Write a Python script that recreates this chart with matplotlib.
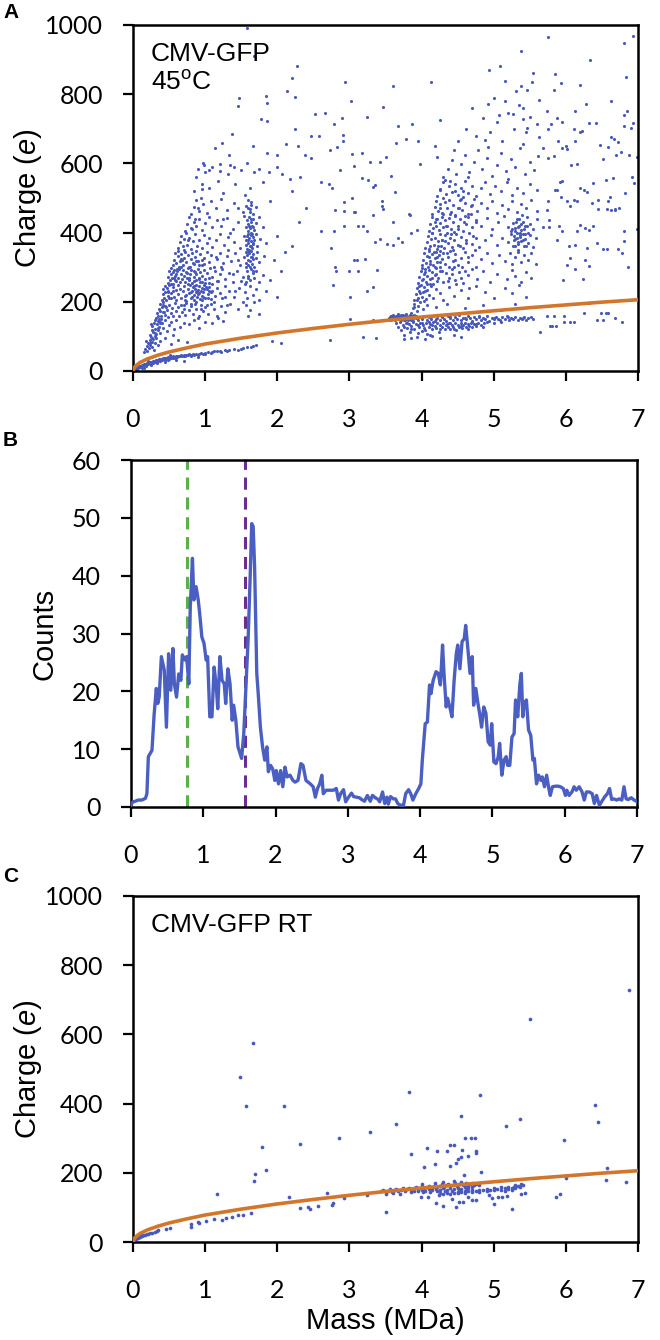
import numpy as np
import matplotlib
matplotlib.use("Agg")
import matplotlib.pyplot as plt

plt.rcParams['font.family'] = ['Liberation Sans', 'DejaVu Sans']
plt.rcParams['mathtext.fontset'] = 'custom'
plt.rcParams['mathtext.rm'] = 'Liberation Sans'
plt.rcParams['mathtext.it'] = 'Liberation Sans:italic'

BLUE = '#4759bd'
ORANGE = '#d2762c'

# fitted charge curve
curve_m = [0, 0.02, 0.05, 0.1, 0.2, 0.35, 0.5, 0.75, 1, 1.5, 2, 2.5, 3, 3.5, 4, 4.5, 5, 5.5, 6, 6.5, 7]
curve_q = [0, 11, 17, 25, 35, 46, 55, 67, 78, 95, 110, 123, 135, 146, 156, 165, 174, 183, 191, 199, 206]

# ---------- panel A points (mass MDa, charge e) ----------
a_low = [(0.01,3),(0.02,6),(0.03,8),(0.04,5),(0.05,10),(0.06,12),(0.07,9),(0.08,14),(0.09,11),(0.10,15),(0.11,13),
         (0.12,17),(0.13,14),(0.14,18),(0.15,16),(0.16,20),(0.17,17),(0.18,21),(0.19,19),(0.20,23),(0.21,20),(0.22,24),
         (0.23,22),(0.24,26),(0.25,23),(0.26,27),(0.27,25),(0.28,29),(0.29,26),(0.30,30),(0.31,28),(0.32,31),(0.33,29),
         (0.34,33),(0.35,30),(0.36,34),(0.37,32),(0.38,35),(0.39,31),(0.40,36),(0.41,34),(0.42,37),(0.43,35),(0.44,38),
         (0.45,33),(0.46,37),(0.47,39),(0.48,36),(0.49,40),(0.50,38),(0.52,39),(0.53,41),(0.55,38),(0.56,42),(0.58,40),
         (0.59,43),(0.61,41),(0.62,44),(0.64,42),(0.66,45),(0.68,43),(0.70,46),(0.72,44),(0.74,47),(0.76,45),(0.78,48),
         (0.80,46),(0.83,49),(0.85,47),(0.88,50),(0.91,48),(0.94,52),(0.97,50),(1.00,53),(1.04,55),(1.08,52),(1.12,57),
         (1.17,58),(1.22,56),(1.27,61),(1.33,60),(1.40,63),(1.46,62),(1.52,66),(1.58,68),(1.63,70),(1.67,72),(1.70,75),
         (1.93,88),(2.05,82),(0.33,22),(0.45,27),(0.60,33),(0.21,28),(0.51,45),(0.70,30),(0.90,40),(0.15,10),(0.25,18),
         (0.05,6),(0.10,12),(0.15,19),(0.20,21),(0.25,27),(0.30,27),(0.35,32),(0.40,33),(0.45,36),(0.50,35),(0.55,40),
         (0.60,40),(0.65,43),(0.70,42),(0.75,46),(0.80,44),(0.90,46),(1.00,50),(1.10,54),(1.20,58),(1.30,58),(1.50,64),
         (0.12,8),(0.18,14),(0.28,22),(0.38,28),(0.48,33),(0.58,37)]

a_left = [(0.15,55),(0.17,64),(0.19,72),(0.20,58),(0.21,80),(0.22,67),(0.23,90),(0.24,76),(0.25,98),(0.26,85),(0.27,70),
          (0.28,93),(0.30,82),(0.32,96),(0.35,74),(0.38,88),(0.45,95),(0.52,78),(0.62,90),(0.75,85),(0.18,88),(0.29,62),
          (0.24,105),(0.26,118),(0.27,130),(0.28,112),(0.29,140),(0.30,122),(0.31,148),(0.32,108),(0.33,135),(0.34,145),
          (0.35,118),(0.36,128),(0.37,142),(0.38,110),(0.40,138),(0.42,125),(0.44,147),(0.47,115),(0.50,132),(0.53,142),
          (0.57,120),(0.60,146),(0.65,128),(0.70,140),(0.78,135),(0.85,148),(0.92,125),(1.00,143),(1.10,138),(0.25,135),
          (0.31,102),(0.39,150),(0.55,105),(1.25,145),
          (0.32,152),(0.33,168),(0.35,160),(0.36,180),(0.37,172),(0.38,195),(0.39,158),(0.40,185),(0.41,170),(0.42,198),
          (0.44,162),(0.45,188),(0.47,175),(0.49,155),(0.50,192),(0.52,168),(0.54,182),(0.56,160),(0.58,196),(0.60,172),
          (0.62,185),(0.64,158),(0.66,192),(0.68,170),(0.70,180),(0.72,162),(0.74,196),(0.77,175),(0.80,188),(0.83,165),
          (0.86,194),(0.88,178),(0.91,160),(0.94,190),(0.97,172),(1.00,185),(1.04,166),(1.08,195),(1.12,178),(1.16,160),
          (1.22,188),(1.28,170),(1.35,193),(1.45,180),(1.56,190),(1.62,175),(1.68,198),(1.75,165),(1.60,158),(0.90,152),
          (1.18,152),
          (0.40,205),(0.41,222),(0.42,238),(0.43,212),(0.44,246),(0.45,228),(0.46,205),(0.47,240),(0.48,218),(0.49,232),
          (0.50,248),(0.52,210),(0.53,226),(0.55,242),(0.57,215),(0.59,235),(0.60,206),(0.62,248),(0.63,222),(0.65,238),
          (0.67,210),(0.69,230),(0.71,245),(0.72,218),(0.74,202),(0.76,236),(0.78,225),(0.79,248),(0.80,212),(0.82,232),
          (0.83,242),(0.84,205),(0.85,220),(0.86,238),(0.87,228),(0.88,248),(0.89,215),(0.90,235),(0.91,225),(0.92,245),
          (0.93,208),(0.94,230),(0.95,240),(0.96,218),(0.97,228),(0.98,248),(1.00,212),(1.02,236),(1.04,222),(1.06,244),
          (1.08,208),(1.10,230),(1.13,218),(1.16,240),(1.20,225),(1.24,210),(1.28,246),(1.33,232),(1.40,215),(1.47,240),
          (1.55,228),(1.58,212),(1.62,245),(1.66,220),(1.70,236),(1.74,205),(1.85,230),(2.00,215),
          (0.48,255),(0.49,272),(0.50,290),(0.51,262),(0.52,280),(0.53,298),(0.54,268),(0.55,285),(0.56,252),(0.57,292),
          (0.58,275),(0.60,260),(0.61,288),(0.62,270),(0.64,296),(0.65,256),(0.66,280),(0.68,265),(0.69,292),(0.70,275),
          (0.72,258),(0.73,285),(0.75,270),(0.76,298),(0.78,262),(0.79,280),(0.81,292),(0.82,255),(0.84,272),(0.85,288),
          (0.87,262),(0.88,280),(0.90,296),(0.91,268),(0.93,285),(0.95,258),(0.96,275),(0.98,292),(1.00,265),(1.02,282),
          (1.05,255),(1.07,298),(1.10,272),(1.13,288),(1.16,260),(1.20,280),(1.24,295),(1.28,265),(1.33,284),(1.38,258),
          (1.44,290),(1.52,272),(1.56,258),(1.58,290),(1.60,275),(1.62,262),(1.64,296),(1.66,282),(1.68,268),(1.71,290),
          (1.74,258),(1.80,278),(1.90,262),(2.05,290),
          (0.55,305),(0.57,322),(0.58,340),(0.60,312),(0.62,332),(0.63,348),(0.65,318),(0.67,338),(0.69,305),(0.70,328),
          (0.72,345),(0.74,315),(0.76,335),(0.78,302),(0.80,325),(0.82,342),(0.84,310),(0.86,330),(0.88,348),(0.90,318),
          (0.93,338),(0.96,306),(0.99,328),(1.02,345),(1.05,315),(1.08,335),(1.12,302),(1.16,325),(1.20,342),(1.25,312),
          (1.30,332),(1.36,318),(1.42,340),(1.48,305),(1.54,330),(1.56,345),(1.57,312),(1.58,335),(1.59,322),(1.60,305),
          (1.61,340),(1.62,318),(1.63,330),(1.64,348),(1.65,310),(1.66,325),(1.67,338),(1.68,302),(1.70,328),(1.72,345),
          (1.75,315),(1.82,332),(1.95,320),(2.10,345),(0.64,302),
          (0.63,355),(0.65,372),(0.67,390),(0.69,360),(0.71,382),(0.73,398),(0.75,365),(0.78,385),(0.80,352),(0.83,375),
          (0.86,395),(0.89,362),(0.92,380),(0.95,356),(0.98,392),(1.02,370),(1.06,385),(1.10,358),(1.15,378),(1.20,396),
          (1.26,365),(1.32,388),(1.40,372),(1.48,355),(1.54,390),(1.56,365),(1.57,378),(1.58,352),(1.59,396),(1.60,370),
          (1.61,385),(1.62,360),(1.63,392),(1.64,375),(1.65,355),(1.66,388),(1.67,368),(1.68,380),(1.70,395),(1.72,362),
          (1.76,382),(1.85,370),(2.00,390),(2.20,360),
          (0.72,405),(0.75,425),(0.78,445),(0.81,412),(0.84,432),(0.88,418),(0.92,440),(0.96,408),(1.00,428),(1.05,446),
          (1.10,415),(1.16,435),(1.22,420),(1.30,442),(1.38,410),(1.46,430),(1.54,448),(1.56,415),(1.58,435),(1.59,405),
          (1.60,425),(1.61,445),(1.62,412),(1.63,432),(1.65,420),(1.66,440),(1.68,408),(1.70,428),(1.74,445),(1.80,415),
          (2.30,430),(2.60,405),
          (0.80,455),(0.84,475),(0.88,495),(0.92,462),(0.97,482),(1.02,458),(1.08,490),(1.15,470),(1.22,498),(1.30,465),
          (1.40,485),(1.52,460),(1.57,478),(1.60,495),(1.62,468),(1.64,488),(1.66,455),(1.70,475),(1.90,490),(2.40,470),
          (0.85,520),(0.88,560),(0.90,585),(0.95,540),(1.00,575),(1.05,530),(1.10,590),(1.18,548),(1.25,515),(1.32,568),
          (1.42,540),(1.55,510),(1.62,530),(1.68,575),(1.80,545),(2.00,590),(2.20,520),(0.98,595),(1.20,598),(1.50,582),
          (0.70,190),(0.72,205),(0.74,220),(0.76,250),(0.78,270),(0.80,195),(0.82,215),(0.84,260),(0.86,285),(0.88,200),
          (0.90,222),(0.92,265),(0.94,178),(0.96,205),(0.98,238),(1.00,255),(1.02,190),(1.04,212),(1.06,270),(1.08,228),
          (1.10,250),(0.81,228),(0.85,245),(0.89,232),(0.93,256),(0.97,214),(1.01,242),(1.05,232),(0.75,282),(0.79,300),
          (0.83,312),(0.87,318),(0.91,305),(0.95,322),(0.99,310),(0.66,300),(0.68,320),(0.60,280),(0.58,262),(0.55,230),
          (0.50,210),(0.46,185),(0.43,170),(0.38,140),(0.34,125),(0.30,110),(0.27,95),(0.23,80),(0.36,150),(0.41,190),
          (0.48,228),(0.52,250),(0.57,270),(0.61,296),(0.67,325),(0.71,350),(0.76,380),(0.82,410),(0.86,440),(0.90,470),
          (0.94,500),(0.96,525),
          (1.55,250),(1.57,300),(1.59,345),(1.60,380),(1.61,420),(1.62,460),(1.63,400),(1.64,360),(1.65,330),(1.66,290),
          (1.67,415),(1.58,390),(1.61,350),(1.64,440),(1.60,470),(1.63,480),(1.62,300),(1.59,270),(1.66,370),(1.65,395),
          (1.12,200),(1.18,260),(1.22,300),(1.28,215),(1.32,350),(1.38,280),(1.42,230),(1.46,320),(1.50,260),(1.35,400),
          (1.25,440),(1.15,330),(1.45,470),(1.52,200),(1.30,190)]

a_sparse = [(1.58,990),(1.68,911),(2.28,882),(2.21,846),(2.13,810),(2.24,793),(1.47,790),(1.46,766),(1.85,795),(1.86,775),
            (1.77,727),(1.86,722),(2.24,699),(2.52,742),(2.66,745),(2.47,679),(2.58,679),(1.37,684),(1.24,658),(2.12,657),
            (2.29,650),(1.67,650),(1.14,645),(1.86,630),(2.00,623),(1.33,623),(2.38,623),(2.47,616),(1.58,600),(0.97,600),
            (1.40,590),(1.06,580),(1.20,578),(1.34,595),(1.74,585),(1.88,575),(2.06,570),(2.18,555),(2.32,560),(2.60,545),
            (2.71,540),
            (2.94,834),(3.61,824),(4.13,835),(3.02,780),(3.47,764),(2.78,713),(2.90,730),(3.24,734),(3.67,708),(3.87,713),
            (4.26,724),(2.91,681),(2.91,664),(2.73,638),(2.83,648),(3.03,626),(3.17,631),(3.29,605),(3.42,605),(3.50,619),
            (3.65,660),(3.79,671),(3.95,664),(4.19,650),(4.21,619),(3.98,599),(2.87,580),(3.06,592),(3.58,563),(3.26,553),
            (3.18,558),(3.36,539),(3.32,531),(2.76,529),(3.03,500),(2.93,489),(3.45,490),(3.07,460),(2.80,464),(3.63,518),
            (3.46,469),(3.83,454),(4.32,553),(4.26,522),
            (5.75,966),(5.38,925),(6.81,949),(6.93,969),(6.33,898),(4.93,871),(5.09,882),(5.16,838),(5.54,861),(5.53,834),
            (5.85,857),(5.93,832),(6.20,827),(5.83,813),(5.31,810),(5.38,823),(5.46,812),(6.83,851),(5.63,783),(6.62,780),
            (4.92,773),(6.28,772),(5.41,760),(5.74,750),(6.12,750),(5.27,743),(5.07,741),(6.85,751),(6.81,740),(6.93,718),
            (6.81,708),(6.90,701),(6.32,718),(6.42,718),(5.88,732),(5.95,720),(5.75,698),(5.80,713),(6.11,700),(6.19,692),
            (6.23,695),(5.40,727),(5.46,703),(5.63,677),(6.62,676),(6.67,671),(6.72,662),(6.48,653),(6.58,646),(6.87,624),
            (6.98,619),(6.70,624),(6.76,633),(6.00,650),(6.01,642),(6.12,664),(5.89,665),(5.94,644),(5.75,615),(5.84,620),
            (5.69,645),(6.51,612),(6.65,557),(6.55,553),(6.95,544),(6.92,560),(6.38,543),(6.15,598),(6.07,594),(5.94,548),
            (6.25,524),(6.29,517),(6.19,528),(6.11,495),(6.01,491),(5.88,522),(5.85,523),(5.93,502),(5.92,546),(6.45,495),
            (6.61,503),(6.59,491),(6.82,515),(6.74,471),(6.62,466),(6.68,464),(5.75,491),(5.74,465),(6.06,476),(6.16,491),
            (6.36,486),
            (2.92,420),(2.79,404),(2.75,356),(2.80,302),(2.82,288),(2.77,248),(2.99,288),(3.07,322),(3.11,322),(3.21,324),
            (3.12,288),(3.38,291),(3.32,243),(3.25,232),(3.01,213),(3.12,420),(3.19,420),(3.24,404),(3.36,372),(3.43,382),
            (3.52,368),(3.61,365),(3.68,385),(3.73,372),(3.60,430),(3.86,399),(3.94,407),(3.84,452),(3.33,452),(3.45,478),
            (3.08,459),(2.92,462),(2.73,90),(3.19,97),(3.37,95),(3.33,148),(3.45,146),(3.01,151),
            (5.64,114),(5.78,131),(5.87,129),(5.97,142),(6.06,142),(6.11,142),(6.25,167),(6.43,148),(6.52,146),(6.59,167),
            (6.68,153),(6.78,143),(6.55,167),(6.32,196),(6.49,167),(5.74,158),(5.84,160),(5.97,160),(5.81,131),(5.96,264),
            (6.24,267),(6.32,304),(6.01,307),(6.06,327),(6.12,295),(6.26,322),(6.12,365),(6.04,360),(6.29,356),(6.43,370),
            (6.52,353),(6.57,353),(6.72,353),(6.78,341),(6.86,302),(6.81,375),(6.81,404),(6.99,409),(6.57,467),(6.68,467),
            (6.44,467),(6.15,404),(6.19,423),(6.26,414),(6.32,407),(6.38,420),(5.88,380),(5.94,404),(5.91,420),(5.76,435),
            (5.69,416),(5.76,416)]

a_right = [(3.86,168),(3.88,182),(3.90,195),(3.93,172),(3.95,188),(3.98,199),(4.02,178),(4.08,192),(4.20,185),(4.35,195),
           (4.60,182),(4.85,190),(5.10,175),(5.30,195),(3.92,160),
           (3.90,205),(3.92,222),(3.94,240),(3.95,210),(3.97,232),(3.99,248),(4.00,215),(4.02,228),(4.04,242),(4.06,208),
           (4.08,235),(4.10,220),(4.13,246),(4.16,212),(4.20,238),(4.25,225),(4.30,205),(4.38,242),(4.45,218),(4.55,235),
           (4.65,210),(4.75,245),(4.88,228),(5.00,212),(5.15,240),(5.25,225),(5.35,248),(5.45,215),(3.96,245),(4.03,202),
           (3.95,255),(3.97,272),(3.99,290),(4.01,262),(4.03,280),(4.05,296),(4.06,258),(4.08,275),(4.10,292),(4.12,265),
           (4.14,285),(4.16,252),(4.18,278),(4.20,298),(4.23,268),(4.26,288),(4.30,258),(4.34,282),(4.38,270),(4.42,295),
           (4.47,262),(4.52,285),(4.58,255),(4.64,278),(4.70,296),(4.77,265),(4.85,288),(4.95,258),(5.05,280),(5.18,265),
           (5.25,292),(5.30,275),(5.38,258),(5.45,285),(5.52,270),(4.00,299),(4.11,251),(4.21,260),
           (4.00,305),(4.02,322),(4.04,340),(4.06,312),(4.08,332),(4.10,348),(4.12,318),(4.14,338),(4.16,305),(4.18,328),
           (4.20,345),(4.22,315),(4.24,335),(4.26,302),(4.28,325),(4.30,342),(4.33,310),(4.36,330),(4.40,348),(4.43,318),
           (4.47,338),(4.51,305),(4.55,328),(4.60,345),(4.65,315),(4.70,335),(4.76,302),(4.82,325),(4.90,342),(4.98,312),
           (5.08,335),(5.16,318),(5.22,340),(5.26,308),(5.30,330),(5.34,345),(5.38,315),(5.42,335),(5.47,322),(5.52,342),
           (5.58,310),(4.09,300),(4.25,348),(4.45,302),
           (4.05,355),(4.07,372),(4.09,390),(4.11,362),(4.13,382),(4.15,398),(4.17,365),(4.19,385),(4.21,352),(4.23,375),
           (4.25,395),(4.27,362),(4.29,380),(4.31,356),(4.33,392),(4.36,370),(4.39,385),(4.42,358),(4.45,378),(4.48,396),
           (4.51,365),(4.54,388),(4.58,355),(4.62,380),(4.66,398),(4.70,368),(4.75,385),(4.80,358),(4.88,378),(4.96,392),
           (5.05,365),(5.12,385),(5.20,372),(5.24,395),(5.27,362),(5.30,382),(5.32,398),(5.34,368),(5.36,388),(5.38,375),
           (5.40,395),(5.42,360),(5.44,382),(5.47,370),(5.50,392),(5.54,358),(5.58,385),(5.28,378),(5.33,372),(5.37,392),
           (4.35,398),(4.10,352),
           (4.10,405),(4.12,425),(4.14,445),(4.16,412),(4.18,432),(4.20,418),(4.22,440),(4.24,408),(4.26,428),(4.28,446),
           (4.30,415),(4.32,435),(4.35,420),(4.38,442),(4.41,410),(4.44,430),(4.47,448),(4.50,418),(4.53,438),(4.57,405),
           (4.61,425),(4.65,445),(4.70,415),(4.75,435),(4.82,420),(4.90,442),(4.98,410),(5.06,430),(5.14,448),(5.20,415),
           (5.24,405),(5.27,428),(5.30,412),(5.32,440),(5.35,420),(5.38,408),(5.40,432),(5.43,418),(5.46,445),(5.50,425),
           (5.55,410),(5.60,438),(4.45,402),(4.60,448),
           (4.15,455),(4.18,475),(4.20,492),(4.23,462),(4.26,482),(4.29,458),(4.32,488),(4.35,470),(4.38,495),(4.41,460),
           (4.44,480),(4.47,452),(4.50,472),(4.53,494),(4.56,465),(4.60,485),(4.64,455),(4.68,478),(4.72,498),(4.77,462),
           (4.83,485),(4.90,470),(4.97,492),(5.05,458),(5.12,480),(5.20,468),(5.26,490),(5.32,460),(5.38,482),(5.45,470),
           (5.52,495),(5.60,462),(4.30,455),(4.55,498),
           (4.22,505),(4.26,525),(4.30,545),(4.34,512),(4.38,535),(4.42,518),(4.46,540),(4.50,508),(4.55,528),(4.60,548),
           (4.65,515),(4.70,535),(4.76,505),(4.82,528),(4.88,545),(4.95,512),(5.02,535),(5.10,520),(5.18,545),(5.25,508),
           (5.32,530),(5.40,515),(5.50,540),(5.60,522),(4.40,548),(4.58,502),
           (4.30,560),(4.36,585),(4.42,610),(4.48,570),(4.54,598),(4.60,625),(4.66,575),(4.72,605),(4.78,640),(4.84,585),
           (4.90,615),(4.97,565),(5.04,595),(5.10,630),(5.17,578),(5.24,612),(5.30,590),(5.37,645),(5.44,570),(5.50,605),
           (5.56,580),(5.62,620),(4.45,640),(4.92,648),(5.20,555),
           (4.50,665),(4.62,700),(4.75,680),(4.85,730),(4.95,690),(5.05,720),(5.12,665),(5.20,745),(5.28,700),(5.35,770),
           (5.45,690),(5.50,735),(5.60,715),(4.70,760),(5.00,790),(5.15,780),(5.40,655),(4.88,668),
           (4.02,265),(4.05,285),(4.08,250),(4.11,310),(4.14,270),(4.17,345),(4.20,280),(4.23,360),(4.26,315),(4.29,290),
           (4.32,375),(4.35,340),(4.38,300),(4.41,395),(4.44,350),(4.47,320),(4.50,410),(4.53,360),(4.56,300),(4.59,430),
           (4.62,370),(4.65,330),(4.68,455),(4.71,390),(4.74,350),(4.10,330),(4.15,400),(4.20,440),(4.25,470),(4.30,500),
           (4.05,230),(3.98,225),(3.94,205),(3.90,185),(4.18,300),(4.22,330),(4.28,380),(4.34,420),(4.40,455),(4.46,520),
           (4.52,470),(4.58,520),(4.64,560),(4.70,480),(4.76,430),(4.36,260),(4.42,280),(4.48,250),(4.54,270),(4.60,290),
           (4.66,240),
           (5.28,390),(5.30,405),(5.32,385),(5.34,415),(5.36,398),(5.38,425),(5.40,380),(5.42,410),(5.44,395),(5.46,420),
           (5.31,430),(5.35,440),(5.39,450),(5.29,360),(5.33,350),(5.45,360),(5.48,400),(5.26,410)]

a_band = [(3.55,152),(3.57,158),(3.58,148),(3.60,162),(3.61,154),(3.63,146),(3.64,160),(3.66,152),(3.67,165),(3.69,149),
          (3.70,157),(3.72,163),(3.73,151),(3.75,146),(3.76,159),(3.78,154),(3.79,166),(3.81,148),(3.82,156),(3.84,161),
          (3.85,150),(3.87,158),(3.88,145),(3.90,162),(3.92,153),(3.95,147),(3.98,157),(4.01,151),(4.04,160),(4.07,146),
          (4.10,155),(4.13,149),(4.16,158),(4.19,144),(4.22,153),(4.25,148),(4.28,157),(4.31,151),(4.34,145),(4.37,160),
          (4.40,152),(4.43,147),(4.46,156),(4.49,150),(4.52,161),(4.55,146),(4.58,154),(4.61,149),(4.64,158),(4.67,152),
          (4.70,145),(4.73,156),(4.76,150),(4.79,160),(4.82,147),(4.85,154),(4.88,150),(4.91,158),(4.94,145),(4.97,153),
          (5.00,149),(5.03,157),(5.06,151),(5.09,146),(5.12,155),(5.15,150),(5.18,158),(5.21,148),(5.24,154),(5.27,150),
          (5.30,157),(5.33,147),(5.36,153),(5.39,150),(5.42,156),(5.45,148),(5.48,152),(5.51,155),(5.54,149),(3.65,155),
          (3.70,150),(3.74,157),(3.80,151),(3.86,154),(3.59,156),(3.62,150),(3.68,158),(3.77,148),(3.83,160),
          (3.65,138),(3.68,128),(3.70,142),(3.72,118),(3.74,132),(3.76,105),(3.78,140),(3.80,125),(3.82,135),(3.84,112),
          (3.86,130),(3.88,142),(3.90,120),(3.92,136),(3.94,98),(3.96,128),(3.98,140),(4.00,115),(4.02,132),(4.04,124),
          (4.06,138),(4.08,108),(4.10,128),(4.12,135),(4.14,120),(4.16,142),(4.18,130),(4.20,125),(4.22,138),(4.24,112),
          (4.26,132),(4.28,126),(4.30,140),(4.32,120),(4.34,134),(4.36,128),(4.38,138),(4.40,122),(4.42,132),(4.44,126),
          (4.46,140),(4.48,118),(4.50,134),(4.52,128),(4.54,138),(4.56,124),(4.58,132),(4.60,140),(4.62,126),(4.64,135),
          (4.66,130),(4.68,138),(4.70,128),(4.72,136),(4.75,130),(4.78,140),(4.82,134),(4.86,138),(4.90,142),(3.75,92),
          (3.85,95),(4.05,92),(4.15,100),(4.25,95),(4.45,105),(4.55,98),(4.00,140),(4.70,142),(5.00,140),(5.10,143),
          (3.95,110),(4.12,104),
          (3.56,155),(3.58,160),(3.60,150),(3.62,157),(3.64,152),(3.66,160),(3.68,150),(3.70,160),(3.72,148),(3.74,162),
          (3.76,152),(3.78,160),(3.80,156),(3.82,150),(3.84,158),(3.86,147),(3.88,152),(3.90,158),(4.00,155),(4.20,150),
          (4.40,156),(4.60,152),(4.80,156),(5.00,152),(5.20,156),(5.40,152),(3.75,128),(3.85,122),(3.95,133),(4.05,118),
          (4.15,134),(4.25,122),(4.35,135),(4.45,120),(4.55,130),(4.65,122),(4.75,136),(4.85,128),(3.80,140),(4.10,142),
          (4.40,138)]

# ---------- panel B histogram ----------
hist_m = [0.00,0.01,0.03,0.06,0.10,0.15,0.20,0.22,0.24,0.29,0.32,0.35,0.37,0.39,0.42,0.46,0.49,0.52,0.55,0.58,0.60,
          0.63,0.66,0.69,0.71,0.75,0.77,0.80,0.82,0.85,0.87,0.90,0.93,0.95,0.98,1.01,1.04,1.06,1.09,1.12,1.15,1.18,
          1.20,1.23,1.26,1.29,1.31,1.34,1.37,1.40,1.42,1.45,1.48,1.51,1.53,1.56,1.59,1.62,1.65,1.67,1.69,1.71,1.74,
          1.76,1.79,1.82,1.85,1.88,1.90,1.93,1.96,1.99,2.01,2.04,2.07,2.10,2.13,2.16,2.20,2.24,2.27,2.31,2.35,2.38,
          2.42,2.45,2.48,2.52,2.55,2.58,2.61,2.64,2.66,2.70,2.73,2.80,2.84,2.87,2.90,2.94,2.97,3.01,3.05,3.08,3.12,
          3.16,3.19,3.23,3.27,3.31,3.34,3.38,3.42,3.44,3.48,3.51,3.54,3.56,3.59,3.63,3.66,3.69,3.73,3.77,3.80,3.84,
          3.87,3.90,3.94,3.98,4.01,4.03,4.07,4.10,4.13,4.15,4.18,4.22,4.25,4.28,4.31,4.33,4.36,4.38,4.41,4.44,4.47,
          4.50,4.52,4.55,4.58,4.61,4.63,4.66,4.69,4.72,4.74,4.77,4.80,4.83,4.85,4.88,4.91,4.94,4.97,4.99,5.02,5.05,
          5.08,5.10,5.13,5.16,5.19,5.21,5.24,5.27,5.30,5.32,5.35,5.38,5.40,5.42,5.44,5.47,5.50,5.53,5.56,5.58,5.61,
          5.64,5.67,5.69,5.72,5.75,5.78,5.80,5.83,5.87,5.91,5.94,5.98,6.01,6.03,6.06,6.10,6.13,6.16,6.20,6.24,6.27,
          6.30,6.34,6.38,6.41,6.44,6.48,6.51,6.55,6.59,6.62,6.65,6.68,6.72,6.75,6.79,6.82,6.85,6.88,6.92,6.96,6.99]
hist_c = [0.3,0.6,0.9,1.0,1.2,1.2,1.5,2.3,8.7,9.8,16.0,20.5,17.9,19.0,26.0,23.7,13.8,26.5,20.2,27.4,21.3,19.0,
          23.0,21.9,26.3,25.4,26.0,21.3,34.6,43.0,35.8,38.1,35.8,33.5,29.4,28.3,25.4,26.0,15.6,15.6,24.2,20.8,17.0,
          26.0,21.9,21.3,17.9,23.9,21.3,15.0,17.6,15.0,10.4,9.2,8.4,12.7,20.8,28.9,40.4,49.0,48.5,41.5,23.1,19.6,
          13.8,10.4,8.1,10.4,6.1,7.2,6.6,4.6,6.3,4.0,6.3,3.5,6.9,5.2,5.5,4.6,4.3,4.6,7.5,7.2,4.6,
          4.3,4.0,3.5,1.7,3.2,4.0,5.5,2.3,2.9,2.9,2.9,3.2,1.2,2.3,3.0,0.9,1.7,2.4,1.8,1.7,1.6,
          1.3,1.0,2.0,1.0,2.0,1.6,1.3,0.9,2.6,0.6,1.7,0.5,1.8,1.4,1.4,0.6,0.3,0.3,2.3,3.0,2.3,
          1.2,2.3,3.2,4.0,8.1,14.4,14.7,21.1,19.6,21.9,23.4,23.1,21.1,28.0,23.1,17.3,18.8,17.3,15.6,21.9,26.5,
          28.0,23.9,28.6,29.1,31.4,27.4,23.1,26.0,17.6,20.5,17.9,15.6,13.8,17.3,16.2,11.3,10.7,14.4,7.8,7.5,8.7,
          11.0,5.5,8.1,8.7,7.2,7.2,12.1,12.7,18.5,15.6,21.3,23.1,15.6,17.9,18.5,13.3,12.4,8.1,8.4,4.0,5.5,
          4.6,5.2,3.5,5.5,3.2,2.0,3.5,3.6,3.6,3.5,3.2,2.0,2.9,2.0,2.6,3.5,2.9,3.5,2.6,1.2,2.6,
          2.6,2.3,0.6,2.0,0.3,0.9,1.7,2.3,3.2,1.3,1.4,1.2,1.4,1.2,3.5,1.4,1.3,1.6,1.2,1.0]
green_line = 0.78
purple_line = 1.58

# ---------- panel C points ----------
c_low = [(0.02,8),(0.04,10),(0.05,14),(0.07,12),(0.08,16),(0.10,15),(0.11,19),(0.13,17),(0.15,21),(0.17,20),(0.19,24),
         (0.21,22),(0.24,27),(0.27,26),(0.30,30),(0.33,33),(0.35,35),(0.46,37),(0.51,41),(0.80,42),(0.81,52),(0.90,58),
         (0.92,54),(1.01,60),(1.12,66),(1.23,65),(1.29,69),(1.37,73),(1.46,78),(1.53,78),(1.64,85),(2.31,97),(2.43,102),
         (2.45,95),(2.57,104),(2.76,107),(2.77,112),(3.50,88),(2.16,129),(2.69,143),(2.93,126),(3.25,136),(1.16,140),
         (5.86,129),(5.92,138)]
c_high = [(3.83,433),(4.81,426),(1.56,394),(2.09,393),(6.40,396),(6.45,347),(4.55,365),(5.17,334),(5.36,356),(3.65,342),
          (3.29,318),(2.85,302),(2.31,284),(1.79,275),(5.97,295),(3.85,253),(4.07,272),(4.22,264),(4.35,264),(4.39,281),
          (4.45,281),(4.56,266),(4.75,262),(4.75,258),(4.60,302),(4.68,301),(4.74,302),(4.51,241),(4.55,245),(4.64,248),
          (4.48,227),(4.39,220),(4.19,224),(4.03,218),(4.59,194),(4.83,202),(1.84,207),(1.69,197),(1.68,176),(6.00,185),
          (6.57,213),(6.56,178),(6.83,173),(6.88,728),(5.50,644),(1.66,576),(1.48,477)]
c_cluster = [(3.44,146),(3.47,150),(3.50,144),(3.53,148),(3.56,152),(3.59,145),(3.62,149),(3.65,153),(3.68,147),(3.71,151),
             (3.74,155),(3.77,148),(3.80,153),(3.83,157),(3.86,150),(3.89,155),(3.92,159),(3.95,152),(3.98,157),(4.01,161),
             (4.04,154),(4.07,158),(4.10,163),(4.13,156),(4.16,160),(4.19,165),(4.22,158),(4.25,162),(4.28,167),(4.31,159),
             (4.34,164),(4.37,169),(4.40,161),(4.43,166),(4.46,171),(4.49,163),(4.52,168),(4.55,173),(4.58,165),(4.61,170),
             (4.64,162),(4.67,167),(4.70,171),(4.73,164),(4.76,169),(4.80,166),(3.90,148),(3.95,146),(4.00,150),(4.05,147),
             (4.10,152),(4.15,149),(4.20,153),(4.25,150),(4.30,155),(4.35,151),(4.40,156),(4.45,152),(4.50,157),(4.55,154),
             (4.60,158),(4.65,155),(4.70,160),(3.85,144),(4.02,144),(4.12,145),(4.22,146),(4.32,147),(4.42,148),(4.52,149),
             (4.62,150),(4.00,167),(4.18,170),(4.30,174),(4.45,176),(3.70,140),(3.60,141),(3.50,139),
             (4.30,140),(4.35,142),(4.40,139),(4.45,143),(4.50,141),(4.55,145),(4.60,142),(4.65,146),(4.70,144),(4.75,148),
             (4.80,145),(4.85,149),(4.90,147),(4.95,151),(5.00,149),(5.05,153),(5.10,151),(5.15,155),(5.20,153),(5.25,157),
             (5.28,160),(5.30,156),(5.33,162),(5.36,159),(5.40,165),(5.00,156),(5.10,158),(5.20,160),(5.30,164),(4.90,152),
             (4.80,151),(4.70,150),(4.60,147),(4.50,145),(5.38,168),(5.15,148),(5.25,150),
             (3.99,131),(4.09,129),(4.20,114),(4.30,104),(4.42,123),(4.48,102),(4.52,115),(4.58,117),(4.64,129),(4.70,121),
             (4.76,121),(4.94,136),(4.97,126),(5.01,110),(5.06,129),(5.11,131),(5.18,133),(5.26,94),(5.38,138),(5.43,141),
             (4.24,136),(4.25,141)]

W, H = 660, 1340
fig = plt.figure(figsize=(W / 100, H / 100), dpi=100)


def box(l, t, r, b):
    return [l / W, 1 - b / H, (r - l) / W, (b - t) / H]


def style(ax):
    for s in ax.spines.values():
        s.set_linewidth(1.8)
        s.set_color('black')
    ax.tick_params(direction='out', length=7.5, width=1.6, labelsize=18)
    ax.tick_params(axis='y', pad=14)
    ax.tick_params(axis='x', pad=19)
    for lab in ax.get_xticklabels() + ax.get_yticklabels():
        lab.set_fontfamily(['Lato', 'DejaVu Sans'])


def scatter(ax, pts, s=5):
    arr = np.array(pts).T
    ax.scatter(arr[0], arr[1], s=s, color=BLUE, linewidths=0, zorder=2)


# panel A
axA = fig.add_axes(box(133, 25, 638, 371))
for pts in (a_low, a_left, a_sparse, a_right, a_band):
    scatter(axA, pts)
axA.plot(curve_m, curve_q, color=ORANGE, lw=2.6, zorder=3)
axA.set_xlim(0, 7)
axA.set_ylim(0, 1000)
axA.set_xticks(range(8))
axA.set_yticks(range(0, 1001, 200))
axA.set_ylabel('Charge ($\\it{e}$)', fontsize=21, labelpad=1)
axA.text(0.035, 0.95, 'CMV-GFP\n45$^{\\rm o}$C', transform=axA.transAxes, fontsize=19,
         va='top', ha='left', linespacing=1.25)
style(axA)

# panel B
axB = fig.add_axes(box(131, 460, 637, 807))
axB.plot(hist_m, hist_c, color='#4a5fc1', lw=2.4, zorder=3)
axB.axvline(green_line, color='#5cb04a', lw=2.2, ls=(0, (4, 2.5)), zorder=2)
axB.axvline(purple_line, color='#6b2d8f', lw=2.2, ls=(0, (4, 2.5)), zorder=2)
axB.set_xlim(0, 7)
axB.set_ylim(0, 60)
axB.set_xticks(range(8))
axB.set_yticks(range(0, 61, 10))
axB.set_ylabel('Counts', fontsize=21, labelpad=10)
style(axB)

# panel C
axC = fig.add_axes(box(133, 896, 638, 1242))
for pts in (c_low, c_high, c_cluster):
    scatter(axC, pts, s=7)
axC.plot(curve_m, curve_q, color=ORANGE, lw=2.6, zorder=3)
axC.set_xlim(0, 7)
axC.set_ylim(0, 1000)
axC.set_xticks(range(8))
axC.set_yticks(range(0, 1001, 200))
axC.set_ylabel('Charge ($\\it{e}$)', fontsize=21, labelpad=1)
axC.set_xlabel('Mass (MDa)', fontsize=21, labelpad=4)
axC.text(0.035, 0.95, 'CMV-GFP RT', transform=axC.transAxes, fontsize=19, va='top', ha='left')
style(axC)

for lab, y in (('A', 13), ('B', 440), ('C', 876)):
    fig.text(3 / W, 1 - y / H, lab, fontsize=15, fontweight='bold', va='center', ha='left')

fig.savefig('out.png', dpi=100)
